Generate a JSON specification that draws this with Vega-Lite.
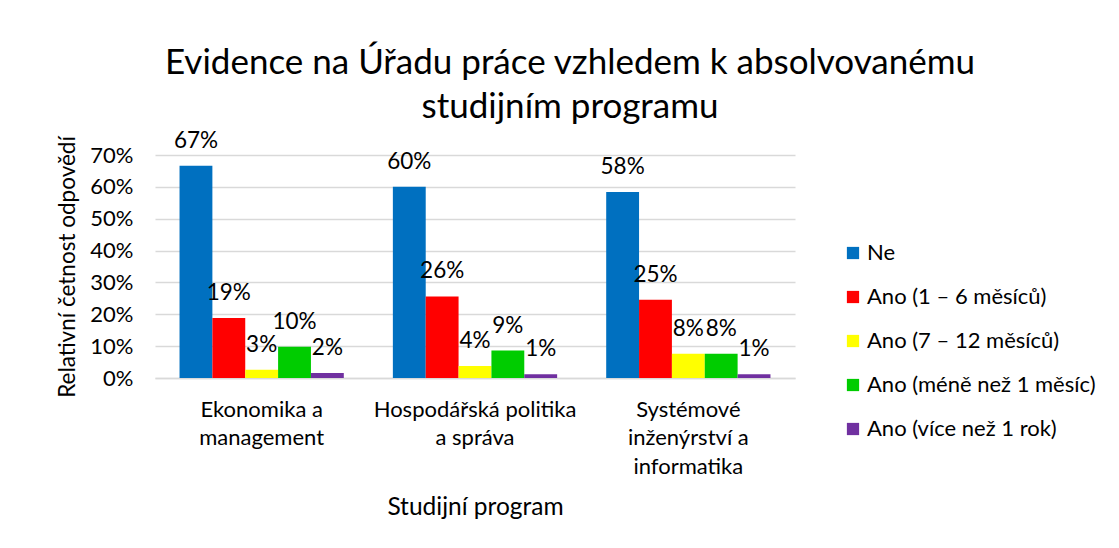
{
  "$schema": "https://vega.github.io/schema/vega-lite/v6.json",
  "width": 640,
  "height": 223,
  "autosize": {"type": "none"},
  "padding": {"left": 155, "top": 155, "right": 324, "bottom": 170},
  "background": "white",
  "title": {
    "text": ["Evidence na Úřadu práce vzhledem k absolvovanému", "studijním programu"],
    "fontSize": 35,
    "font": "Lato",
    "fontWeight": "normal",
    "color": "#000000",
    "anchor": "middle",
    "dx": 95,
    "lineHeight": 44,
    "offset": 5
  },
  "data": {
    "values": [
      {"program": "Ekonomika a management", "series": "Ne", "value": 0.666, "label": "67%"},
      {"program": "Ekonomika a management", "series": "Ano (1 – 6 měsíců)", "value": 0.188, "label": "19%"},
      {"program": "Ekonomika a management", "series": "Ano (7 – 12 měsíců)", "value": 0.026, "label": "3%"},
      {"program": "Ekonomika a management", "series": "Ano (méně než  1 měsíc)", "value": 0.098, "label": "10%"},
      {"program": "Ekonomika a management", "series": "Ano (více než 1 rok)", "value": 0.016, "label": "2%"},
      {"program": "Hospodářská politika a správa", "series": "Ne", "value": 0.600, "label": "60%"},
      {"program": "Hospodářská politika a správa", "series": "Ano (1 – 6 měsíců)", "value": 0.256, "label": "26%"},
      {"program": "Hospodářská politika a správa", "series": "Ano (7 – 12 měsíců)", "value": 0.038, "label": "4%"},
      {"program": "Hospodářská politika a správa", "series": "Ano (méně než  1 měsíc)", "value": 0.086, "label": "9%"},
      {"program": "Hospodářská politika a správa", "series": "Ano (více než 1 rok)", "value": 0.012, "label": "1%"},
      {"program": "Systémové inženýrství a informatika", "series": "Ne", "value": 0.584, "label": "58%"},
      {"program": "Systémové inženýrství a informatika", "series": "Ano (1 – 6 měsíců)", "value": 0.246, "label": "25%"},
      {"program": "Systémové inženýrství a informatika", "series": "Ano (7 – 12 měsíců)", "value": 0.076, "label": "8%"},
      {"program": "Systémové inženýrství a informatika", "series": "Ano (méně než  1 měsíc)", "value": 0.076, "label": "8%"},
      {"program": "Systémové inženýrství a informatika", "series": "Ano (více než 1 rok)", "value": 0.012, "label": "1%"}
    ]
  },
  "encoding": {
    "x": {
      "field": "program",
      "type": "nominal",
      "sort": ["Ekonomika a management", "Hospodářská politika a správa", "Systémové inženýrství a informatika"],
      "scale": {"paddingInner": 0.23, "paddingOuter": 0.115},
      "title": "Studijní program",
      "axis": {
        "labelExpr": "datum.value == 'Ekonomika a management' ? ['Ekonomika a', 'management'] : datum.value == 'Hospodářská politika a správa' ? ['Hospodářská politika', 'a správa'] : ['Systémové', 'inženýrství a', 'informatika']",
        "labelAngle": 0,
        "labelBaseline": "top",
        "labelLineHeight": 28.5,
        "labelPadding": 21,
        "labelLimit": 0,
        "ticks": false,
        "domainColor": "#D9D9D9",
        "domainWidth": 1.5,
        "titlePadding": 18,
        "titleFontSize": 24.5
      }
    },
    "xOffset": {
      "field": "series",
      "type": "nominal",
      "sort": ["Ne", "Ano (1 – 6 měsíců)", "Ano (7 – 12 měsíců)", "Ano (méně než  1 měsíc)", "Ano (více než 1 rok)"],
      "scale": {"paddingInner": 0, "paddingOuter": 0}
    },
    "y": {
      "field": "value",
      "type": "quantitative",
      "scale": {"domain": [0, 0.7]},
      "title": "Relativní četnost odpovědí",
      "axis": {
        "format": ".0%",
        "values": [0, 0.1, 0.2, 0.3, 0.4, 0.5, 0.6, 0.7],
        "grid": true,
        "gridColor": "#D9D9D9",
        "gridWidth": 1.5,
        "domain": false,
        "ticks": false,
        "labelPadding": 22,
        "titlePadding": 10,
        "titleFontSize": 22.5
      }
    }
  },
  "layer": [
    {
      "mark": {"type": "bar"},
      "encoding": {
        "color": {
          "field": "series",
          "type": "nominal",
          "scale": {
            "domain": ["Ne", "Ano (1 – 6 měsíců)", "Ano (7 – 12 měsíců)", "Ano (méně než  1 měsíc)", "Ano (více než 1 rok)"],
            "range": ["#0070C0", "#FF0000", "#FFFF00", "#00CC00", "#7030A0"]
          },
          "legend": {
            "orient": "none",
            "legendX": 687,
            "legendY": 87,
            "title": null,
            "symbolType": "square",
            "symbolSize": 150,
            "symbolStrokeWidth": 0,
            "labelFontSize": 22,
            "labelFont": "Lato",
            "labelColor": "#000000",
            "labelOffset": 3,
            "rowPadding": 22,
            "labelLimit": 0
          }
        }
      }
    },
    {
      "mark": {"type": "text", "baseline": "alphabetic", "dy": -18, "fontSize": 22.5, "font": "Lato", "color": "#000000"},
      "encoding": {"text": {"field": "label"}}
    }
  ],
  "config": {
    "view": {"stroke": null},
    "axis": {
      "labelFont": "Lato",
      "labelFontSize": 22,
      "labelColor": "#000000",
      "titleFont": "Lato",
      "titleFontWeight": "normal",
      "titleColor": "#000000"
    }
  }
}
